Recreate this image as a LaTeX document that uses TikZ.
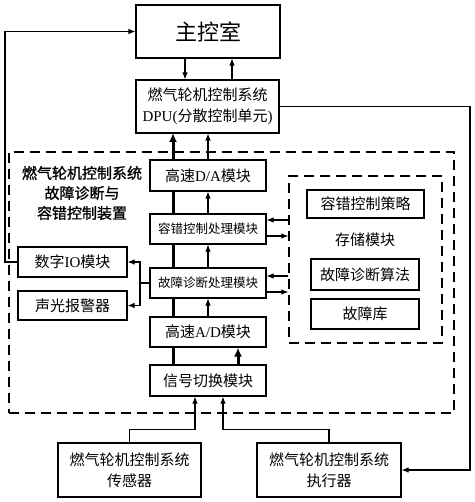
\documentclass[tikz,border=0pt]{standalone}
\usepackage{fontspec}
\setmainfont{Liberation Serif}
\newfontfamily\cjk{Noto Sans CJK SC}
\newfontfamily\cjkb[FakeBold=1.2]{Noto Sans CJK SC}
\usetikzlibrary{arrows.meta}
\newcommand\zh[1]{{\cjk #1}}
\begin{document}
\begin{tikzpicture}[x=1pt,y=-1pt,
  box/.style={draw,line width=1.1pt,fill=white,align=center,inner sep=0pt,font=\fontsize{15}{19}\selectfont},
  dashbox/.style={draw,line width=1.1pt,dash pattern=on 10pt off 6pt,inner sep=0pt},
  arr/.style={line width=1.1pt,-{Latex[length=7pt,width=5.5pt]}},
  tarr/.style={line width=3pt,-{Latex[length=9pt,width=8pt]}},
  ln/.style={line width=1.1pt}]
\useasboundingbox (0,0) rectangle (474,502);
% outer dashed
\node[dashbox,minimum width=445pt,minimum height=261pt] (outer) at (231.5,282.5) {};
\node[dashbox,minimum width=153pt,minimum height=167pt] (store) at (365.5,259.5) {};
% helper coordinates
\coordinate (L) at (5,0);
\coordinate (R) at (470,0);
\coordinate (T) at (173,0);
\coordinate (M) at (208,0);
\coordinate (D1) at (185,0);
\coordinate (U1) at (232,0);
\coordinate (A) at (238,0);
\coordinate (B) at (140,0);
\coordinate (S1) at (195,0);
\coordinate (S2) at (223,0);
\coordinate (y1) at (0,220);
\coordinate (y2) at (0,236);
\coordinate (y3) at (0,276);
\coordinate (y4) at (0,292);
% thick bypass (behind boxes)
\coordinate (swtop) at (208,365);
\coordinate (dpubot) at (208,133);
\draw[tarr] (swtop -| T) -- (dpubot -| T);
% boxes
\node[box,minimum width=144pt,minimum height=53pt,font=\fontsize{22}{26}\selectfont] (zks) at (208,31.5) {\zh{主控室}};
\node[box,minimum width=143pt,minimum height=53pt,font=\fontsize{15}{21}\selectfont] (dpu) at (207.5,106.5) {\zh{燃气轮机控制系统}\\DPU(\zh{分散控制单元})};
\node[box,minimum width=116pt,minimum height=31pt] (da) at (208,175.5) {\zh{高速}D/A\zh{模块}};
\node[box,minimum width=116pt,minimum height=30pt,font=\fontsize{12.5}{16}\selectfont] (rc) at (208,229) {\zh{容错控制处理模块}};
\node[box,minimum width=116pt,minimum height=30pt,font=\fontsize{12.5}{16}\selectfont] (gz) at (208,283) {\zh{故障诊断处理模块}};
\node[box,minimum width=116pt,minimum height=30pt] (ad) at (208,332) {\zh{高速}A/D\zh{模块}};
\node[box,minimum width=116pt,minimum height=31pt] (sw) at (208,380.5) {\zh{信号切换模块}};
\node[box,minimum width=109pt,minimum height=30pt] (dio) at (72.5,262) {\zh{数字}IO\zh{模块}};
\node[box,minimum width=109pt,minimum height=29pt] (alarm) at (72.5,305.5) {\zh{声光报警器}};
\node[box,minimum width=117pt,minimum height=28pt] (strat) at (365.5,204) {\zh{容错控制策略}};
\node[font=\fontsize{15}{18}\selectfont] (storelbl) at (365,240) {\zh{存储模块}};
\node[box,minimum width=108pt,minimum height=31pt] (algo) at (365,274.5) {\zh{故障诊断算法}};
\node[box,minimum width=108pt,minimum height=30pt] (lib) at (365,314) {\zh{故障库}};
\node[box,minimum width=143pt,minimum height=54pt,font=\fontsize{15}{21}\selectfont] (sensor) at (129.5,470) {\zh{燃气轮机控制系统}\\\zh{传感器}};
\node[box,minimum width=144pt,minimum height=54pt,font=\fontsize{15}{21}\selectfont] (act) at (329,470) {\zh{燃气轮机控制系统}\\\zh{执行器}};
\node[align=center,font=\cjkb\fontsize{15}{20}\selectfont] (title) at (82,193) {燃气轮机控制系统\\故障诊断与\\容错控制装置};
% connectors
\draw[arr] (zks.south -| D1) -- (dpu.north -| D1);
\draw[arr] (dpu.north -| U1) -- (zks.south -| U1);
\draw[arr] (dio.west) -- (dio.west -| L) |- (zks.west);
\draw[arr] (dpu.east) -- (dpu.east -| R) |- (act.east);
\draw[arr] (da.north -| M) -- (dpu.south -| M);
\draw[arr] (rc.north) -- (da.south);
\draw[arr] (gz.north) -- (rc.south);
\draw[arr] (ad.north) -- (gz.south);
\draw[tarr] (sw.north -| A) -- (ad.south -| A);
\draw[arr] (gz.west) -- (gz.west -| B) |- (dio.east);
\draw[arr] (gz.west -| B) |- (alarm.east);
\draw[arr] (store.west |- y1) -- (rc.east |- y1);
\draw[arr] (rc.east |- y2) -- (store.west |- y2);
\draw[arr] (store.west |- y3) -- (gz.east |- y3);
\draw[arr] (gz.east |- y4) -- (store.west |- y4);
\draw[arr] (sensor.north) -- ++(0,-13) -| (sw.south -| S1);
\draw[arr] (act.north) -- ++(0,-13) -| (sw.south -| S2);
\end{tikzpicture}
\end{document}
